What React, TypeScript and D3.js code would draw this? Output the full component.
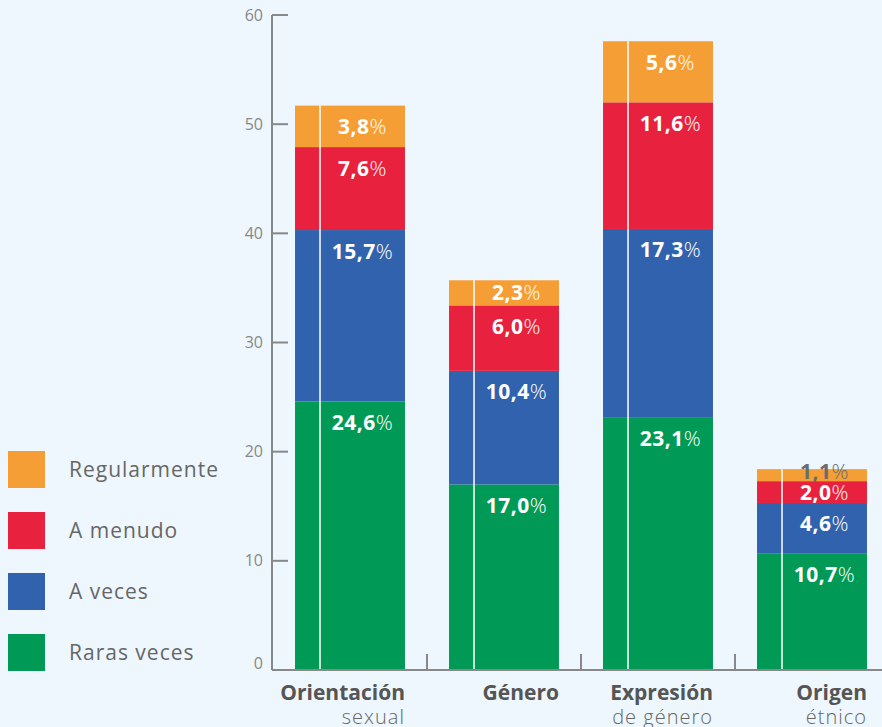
import React from "react";
import * as d3 from "d3";

const categories = ["Orientación|sexual", "Género|", "Expresión|de género", "Origen|étnico"];
const seriesNames = ["Raras veces", "A veces", "A menudo", "Regularmente"];
const rarasVeces = [24.6, 17.0, 23.1, 10.7];
const aVeces = [15.7, 10.4, 17.3, 4.6];
const aMenudo = [7.6, 6.0, 11.6, 2.0];
const regularmente = [3.8, 2.3, 5.6, 1.1];
const yTicks = [0, 10, 20, 30, 40, 50, 60];
const colors = ["#009A56", "#3162AE", "#E8213F", "#F59E35"];

const W = 882, H = 727;
const x0 = 272, yBottom = 670, yTop = 15;

export default function App() {
  const y = d3.scaleLinear().domain([0, 60]).range([yBottom, yTop]);
  const x = d3.scaleBand<string>().domain(categories).range([273, 889]).paddingInner(0.286).paddingOuter(0.143);
  const rows = categories.map((c, i) => ({ cat: c, s0: rarasVeces[i], s1: aVeces[i], s2: aMenudo[i], s3: regularmente[i] }));
  const stack = d3.stack<any>().keys(["s0", "s1", "s2", "s3"])(rows);
  const font = "'Open Sans', sans-serif";
  const bw = x.bandwidth();
  return (
    <svg width={W} height={H} style={{ position: "absolute", left: 0, top: 0, background: "#EEF6FE" }} fontFamily={font}>
      <rect x={0} y={0} width={W} height={H} fill="#EEF6FE" />
      {stack.map((layer, li) =>
        layer.map((d, i) => {
          const bx = x(categories[i])!;
          const yt = y(d[1]), yb = y(d[0]);
          const h = yb - yt;
          const val = d[1] - d[0];
          const cy = yt + Math.min(21, h / 2) - (h < 15 ? 4 : 0);
          const lx = bx + 25 + (bw - 25) / 2;
          const gray = li === 3 && val < 2;
          return (
            <g key={li + "-" + i}>
              <rect x={bx} y={yt} width={bw} height={h} fill={colors[li]} />
              <text x={lx} y={cy + 7.5} textAnchor="middle" fontSize={21} letterSpacing={0.5} fill={gray ? "#6b6b6b" : "#fff"}>
                <tspan fontWeight="bold">{val.toFixed(1).replace(".", ",")}</tspan>
                <tspan fontWeight="300">%</tspan>
              </text>
            </g>
          );
        })
      )}
      {categories.map((c, i) => {
        const bx = x(c)!;
        const top = y(stack[3][i][1]);
        return <line key={"w" + i} x1={bx + 25} x2={bx + 25} y1={top} y2={yBottom} stroke="#fff" strokeWidth={1.5} />;
      })}
      {/* y axis */}
      <line x1={x0} x2={x0} y1={yTop} y2={yBottom} stroke="#888" strokeWidth={2} />
      {yTicks.map((t) => (
        <g key={t}>
          {t > 0 && <line x1={x0} x2={x0 + 16} y1={y(t)} y2={y(t)} stroke="#888" strokeWidth={2} />}
          <text x={263} y={y(t) - (t === 0 ? 7 : 0)} dy="0.35em" textAnchor="end" fontSize={16} fill="#888">{t}</text>
        </g>
      ))}
      {/* x axis */}
      <line x1={x0} x2={W} y1={yBottom} y2={yBottom} stroke="#888" strokeWidth={2} />
      {categories.slice(1).map((c) => {
        const xx = x(c)! - (x.step() - bw) / 2;
        return <line key={"t" + c} x1={xx} x2={xx} y1={yBottom} y2={yBottom - 16} stroke="#888" strokeWidth={2} />;
      })}
      {categories.map((c) => {
        const [a, b] = c.split("|");
        const rx = x(c)! + bw;
        return (
          <g key={"l" + c}>
            <text x={rx} y={700} textAnchor="end" fontSize={21} fontWeight="bold" fill="#555">{a}</text>
            {b && <text x={rx} y={724} textAnchor="end" fontSize={20} letterSpacing={1} fontWeight="300" fill="#666">{b}</text>}
          </g>
        );
      })}
      {/* legend */}
      {[3, 2, 1, 0].map((si, k) => (
        <g key={"lg" + si}>
          <rect x={8} y={451 + k * 61} width={37} height={37} fill={colors[si]} />
          <text x={69} y={451 + k * 61 + 26} fontSize={21} letterSpacing={1} fill="#666">{seriesNames[si]}</text>
        </g>
      ))}
    </svg>
  );
}
